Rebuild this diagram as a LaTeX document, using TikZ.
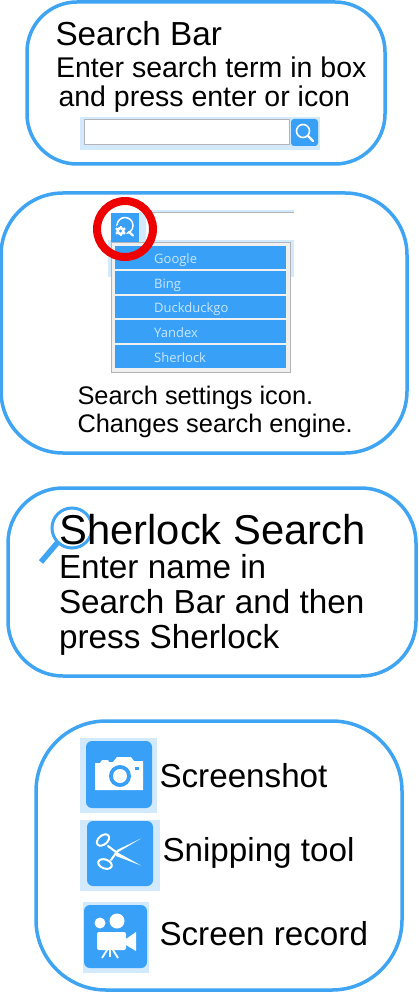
\documentclass[tikz,border=0pt]{standalone}
\usepackage{fontspec}
\setmainfont{Liberation Sans}
\newfontfamily\uifont{Open Sans}
\definecolor{bluemain}{HTML}{3FA4F2}
\definecolor{iconblue}{HTML}{38A1F7}
\definecolor{palebg}{HTML}{D3E9FC}
\definecolor{menutext}{HTML}{C9E5FF}
\definecolor{menubg}{HTML}{F0F0F0}
\definecolor{graybd}{HTML}{B4B4B8}
\definecolor{ringred}{HTML}{EE0000}
\tikzset{
  x=1pt,y=-1pt,
  panel/.style={draw=bluemain,line width=3.5pt,fill=white},
  txt/.style={anchor=base west,inner sep=0pt,outer sep=0pt,font=\fontsize{#1}{#1}\selectfont},
  menuitem/.style={fill=iconblue,anchor=north west,inner sep=0pt,minimum width=171pt,minimum height=22.5pt},
  menutxt/.style={anchor=base west,inner sep=0pt,text=menutext,font=\uifont\fontsize{13}{13}\selectfont},
  pale/.style={fill=palebg,draw=none},
  iconbox/.style={fill=iconblue,draw=none,rounded corners=6pt},
  glyph/.style={fill=white,draw=none},
  glyphline/.style={draw=white,line width=2pt,fill=none},
}
\begin{document}
\begin{tikzpicture}
\useasboundingbox (0,0) rectangle (419,992);
% panels
\draw[panel,rounded corners=50pt] (27,2) rectangle (385,164);
\draw[panel,rounded corners=62pt] (1,193) rectangle (407,453);
\draw[panel,rounded corners=55pt] (8,488) rectangle (416,676);
\draw[panel,rounded corners=70pt] (36,721) rectangle (402,990);
% panel 1
\node[txt=33.3] (t1) at (55.5,46) {Search Bar};
\node[txt=28.5] (t2) at (56,78) {Enter search term in box};
\node[txt=28.5] (t3) at (58.5,107) {and press enter or icon};
\fill[pale] (80,117) rectangle (320,150);
\draw[draw=graybd,line width=1pt,fill=white] (84.5,120) rectangle (289,145);
\fill[iconbox,rounded corners=3pt] (291,119) rectangle (318,146);
\draw[draw=white,line width=1.6pt] (303,131) circle (6.5);
\draw[draw=white,line width=2.2pt,line cap=round] (308,136) -- (313,141);
% panel 2
\fill[pale] (146,210) rectangle (294,212);
\draw[draw=graybd,line width=1pt] (146,212.5) -- (294,212.5);
\fill[pale] (108,240) rectangle (294,277);
\fill[pale] (139,212) rectangle (146,242);
\fill[iconbox,rounded corners=0pt] (111,213) rectangle (139,242);
\draw[draw=white,line width=1.5pt] (125,225.5) circle (8);
\draw[draw=white,line width=2.2pt,line cap=round] (129,232) -- (133,235.5);
\fill[iconblue] (120.5,231) circle (6.5);
\fill[white] (120.5,231) circle (4.3);
\foreach \a in {0,60,...,300}{\fill[white,rotate around={\a:(120.5,231)}] (119.5,225.6) rectangle (121.5,228);}
\fill[iconblue] (120.5,231) circle (1.6);
\draw[draw=graybd,line width=1pt,fill=menubg] (111,242) rectangle (290,372);
\node[menuitem] (m1) at (115,246) {};
\node[menuitem] (m2) at (115,271) {};
\node[menuitem] (m3) at (115,295.5) {};
\node[menuitem] (m4) at (115,320) {};
\node[menuitem] (m5) at (115,345) {};
\node[menutxt] (g1) at (154,263) {Google};
\node[menutxt] (g2) at (154,288) {Bing};
\node[menutxt] (g3) at (154,312.5) {Duckduckgo};
\node[menutxt] (g4) at (154,337) {Yandex};
\node[menutxt] (g5) at (154,362) {Sherlock};
\draw[draw=ringred,line width=8pt] (125,229) circle (28);
\node[txt=25.4] (t4) at (77.5,404) {Search settings icon.};
\node[txt=25.4] (t5) at (77.5,432) {Changes search engine.};
% panel 3
\draw[draw=bluemain,line width=3pt] (72,528) circle (20);
\draw[draw=bluemain,line width=5.5pt] (58,542) -- (41,562);
\node[txt=41.7] (t6) at (59.5,544) {Sherlock Search};
\node[txt=33.3] (t7) at (59,578) {Enter name in};
\node[txt=33.3] (t8) at (59,613) {Search Bar and then};
\node[txt=33.3] (t9) at (59,648) {press Sherlock};
% panel 4 camera
\fill[pale] (80,738) rectangle (157,813);
\fill[iconbox] (86,741) rectangle (152,808);
\fill[glyph] (95,763) -- (100,763) -- (102,760) -- (108,760) -- (109,762) -- (113,762) -- (117,757) -- (131,757) -- (134,761) -- (143,761) -- (143,790) -- (95,790) -- cycle;
\fill[iconblue] (120,776) circle (11);
\fill[glyph] (120,776) circle (7);
\fill[iconblue] (135,767) rectangle (139,770);
\node[txt=33.2] (t10) at (159.5,787) {Screenshot};
% scissors
\fill[pale] (80,820) rectangle (160,891);
\fill[iconbox] (87,821) rectangle (153,886);
\draw[glyphline,rotate around={40:(103,840)}] (103,840) ellipse (7 and 4.5);
\draw[glyphline,rotate around={-20:(105,864)}] (105,864) ellipse (7 and 4.5);
\draw[draw=white,line width=2pt,line cap=round] (108,846) -- (116,852);
\draw[draw=white,line width=2pt,line cap=round] (111,860) -- (116,853);
\fill[glyph] (115,851) -- (141,865.5) -- (116,856) -- cycle;
\fill[glyph] (115,854) -- (141,838.5) -- (117,850) -- cycle;
\node[txt=33.2] (t11) at (162.5,861) {Snipping tool};
% video
\fill[pale] (83,902) rectangle (149,973);
\fill[iconbox] (84,905) rectangle (147,968);
\fill[glyph] (100,923) circle (5.5);
\fill[glyph] (117,921) circle (7.5);
\fill[glyph,rounded corners=2pt] (97,932) rectangle (126,950);
\fill[glyph] (126,939) -- (136,932) -- (136,951) -- (126,945) -- cycle;
\draw[draw=white,line width=1.8pt] (107,950) -- (102,958);
\draw[draw=white,line width=1.8pt] (110,950) -- (110,957);
\draw[draw=white,line width=1.8pt] (113,950) -- (118,958);
\node[txt=33.2] (t12) at (159.5,945) {Screen record};
\end{tikzpicture}
\end{document}
